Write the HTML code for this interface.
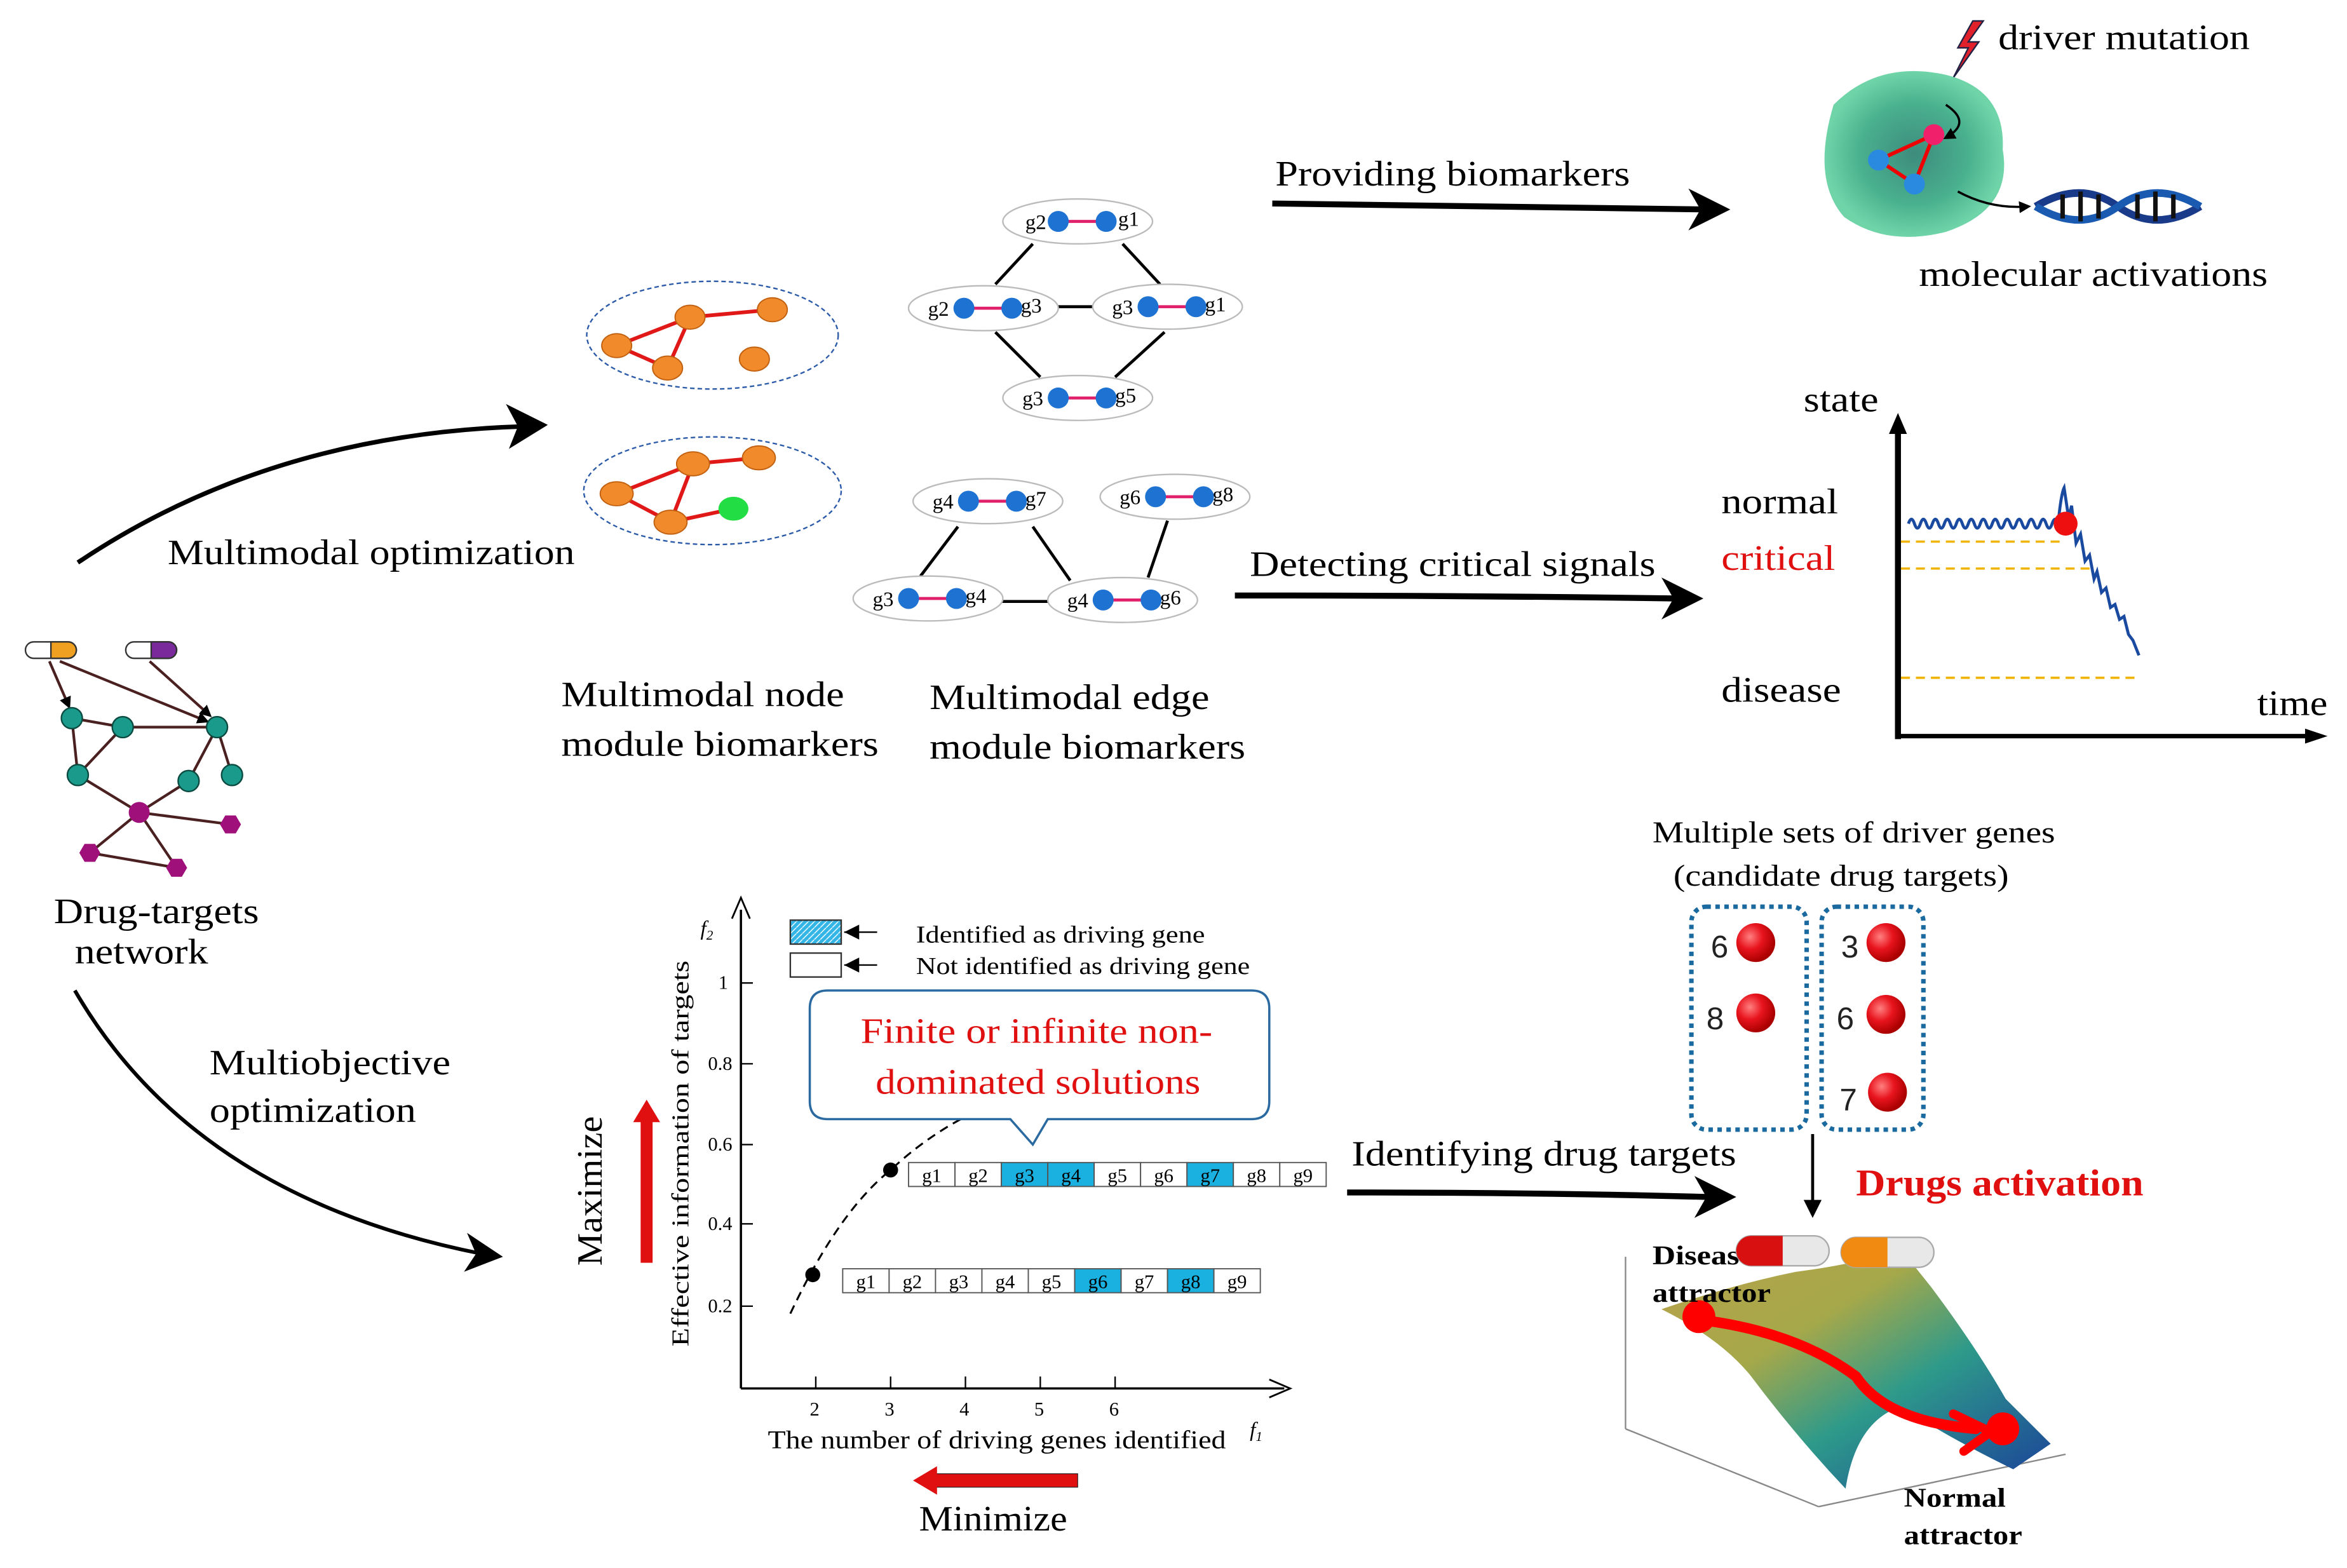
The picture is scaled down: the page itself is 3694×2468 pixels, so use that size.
<!DOCTYPE html>
<html><head><meta charset="utf-8"><style>
html,body{margin:0;padding:0;background:#fff}
svg{display:block}
text{font-family:"Liberation Serif",serif}
</style></head><body>
<svg width="3694" height="2468" viewBox="0 0 1568 1048" preserveAspectRatio="none" xmlns="http://www.w3.org/2000/svg">
<defs>
<radialGradient id="cell" cx="50%" cy="50%" r="50%"><stop offset="0" stop-color="#3d8c7c"/><stop offset="0.6" stop-color="#49b08e"/><stop offset="1" stop-color="#6fd4a8"/></radialGradient>
<linearGradient id="surf" x1="0" y1="0" x2="1" y2="1"><stop offset="0" stop-color="#b9a24a"/><stop offset="0.35" stop-color="#a5a84a"/><stop offset="0.6" stop-color="#2e9a8a"/><stop offset="1" stop-color="#1a3e9a"/></linearGradient>
<pattern id="hatch" width="4" height="4" patternUnits="userSpaceOnUse"><rect width="4" height="4" fill="#33b6e6"/><path d="M0 4L4 0" stroke="#fff" stroke-width="0.6"/></pattern>
<marker id="ah" markerWidth="8" markerHeight="8" refX="6" refY="4" orient="auto" markerUnits="userSpaceOnUse"><path d="M0 0L8 4L0 8z" fill="#000"/></marker>
<radialGradient id="rb" cx="35%" cy="35%" r="65%"><stop offset="0" stop-color="#ff8080"/><stop offset="0.5" stop-color="#e8141e"/><stop offset="1" stop-color="#a00"/></radialGradient>
</defs>

<path d="M1318 14 L1308 32 L1315 32 L1305 52 L1322 28 L1315 28 L1325 14z" fill="#e0202a" stroke="#224" stroke-width="1"/>
<text x="1335" y="33" font-size="24" textLength="168" lengthAdjust="spacingAndGlyphs">driver mutation</text>
<path d="M1225 70 Q1255 40 1300 50 Q1340 60 1338 100 Q1345 140 1300 155 Q1260 165 1232 145 Q1210 120 1225 70z" fill="url(#cell)"/>
<line x1="1255" y1="107" x2="1292" y2="90" stroke="#e00" stroke-width="2.5"/>
<line x1="1255" y1="107" x2="1279" y2="123" stroke="#e00" stroke-width="2.5"/>
<line x1="1279" y1="123" x2="1292" y2="90" stroke="#e00" stroke-width="2.5"/>
<circle cx="1292" cy="90" r="7" fill="#f0206a"/><circle cx="1255" cy="107" r="7" fill="#2a8ae0"/><circle cx="1279" cy="123" r="7" fill="#2a8ae0"/>
<path d="M1300 70 Q1318 82 1300 92" fill="none" stroke="#000" stroke-width="1.5" marker-end="url(#ah)"/>
<path d="M1308 128 Q1330 140 1355 138" fill="none" stroke="#000" stroke-width="1.5" marker-end="url(#ah)"/>
<path d="M1360 138 Q1390 120 1415 138 T1470 138" fill="none" stroke="#1a3a8a" stroke-width="5"/>
<path d="M1360 138 Q1390 156 1415 138 T1470 138" fill="none" stroke="#1a5ab0" stroke-width="5"/>
<g stroke="#111" stroke-width="3"><line x1="1378" y1="130" x2="1378" y2="146"/><line x1="1390" y1="128" x2="1390" y2="148"/><line x1="1402" y1="130" x2="1402" y2="146"/><line x1="1428" y1="130" x2="1428" y2="146"/><line x1="1440" y1="128" x2="1440" y2="148"/><line x1="1452" y1="130" x2="1452" y2="146"/></g>
<text x="1282" y="191" font-size="24" textLength="233" lengthAdjust="spacingAndGlyphs">molecular activations</text>
<text x="852" y="124" font-size="24" textLength="237" lengthAdjust="spacingAndGlyphs">Providing biomarkers</text>
<path d="M850 136 Q1000 138 1140 140" fill="none" stroke="#000" stroke-width="4"/>
<path d="M1128 126 L1156 140 L1128 154 L1136 140z" fill="#000"/>

<ellipse cx="476" cy="224" rx="84" ry="36" fill="none" stroke="#2b5aa8" stroke-width="1" stroke-dasharray="3,2"/>
<g stroke="#e01818" stroke-width="2.5"><line x1="412" y1="231" x2="461" y2="212"/><line x1="461" y1="212" x2="516" y2="207"/><line x1="412" y1="231" x2="446" y2="246"/><line x1="446" y1="246" x2="461" y2="212"/></g>
<g fill="#f08a2a" stroke="#c06010" stroke-width="0.8"><ellipse cx="412" cy="231" rx="10" ry="8"/><ellipse cx="461" cy="212" rx="10" ry="8"/><ellipse cx="516" cy="207" rx="10" ry="8"/><ellipse cx="446" cy="246" rx="10" ry="8"/><ellipse cx="504" cy="240" rx="10" ry="8"/></g>
<ellipse cx="476" cy="328" rx="86" ry="36" fill="none" stroke="#2b5aa8" stroke-width="1" stroke-dasharray="3,2"/>
<g stroke="#e01818" stroke-width="2.5"><line x1="412" y1="330" x2="463" y2="310"/><line x1="463" y1="310" x2="507" y2="306"/><line x1="412" y1="330" x2="448" y2="349"/><line x1="448" y1="349" x2="490" y2="340"/><line x1="463" y1="310" x2="448" y2="349"/></g>
<g fill="#f08a2a" stroke="#c06010" stroke-width="0.8"><ellipse cx="412" cy="330" rx="11" ry="8"/><ellipse cx="463" cy="310" rx="11" ry="8"/><ellipse cx="507" cy="306" rx="11" ry="8"/><ellipse cx="448" cy="349" rx="11" ry="8"/></g>
<ellipse cx="490" cy="340" rx="10" ry="8" fill="#22dd44"/>
<text x="375" y="472" font-size="24" textLength="189" lengthAdjust="spacingAndGlyphs">Multimodal node</text>
<text x="375" y="505" font-size="24" textLength="212" lengthAdjust="spacingAndGlyphs">module biomarkers</text>

<g stroke="#000" stroke-width="2">
<line x1="690" y1="163" x2="665" y2="190"/><line x1="750" y1="163" x2="775" y2="190"/><line x1="705" y1="205" x2="735" y2="205"/><line x1="665" y1="222" x2="695" y2="252"/><line x1="778" y1="222" x2="745" y2="252"/>
<line x1="640" y1="352" x2="615" y2="385"/><line x1="690" y1="352" x2="715" y2="388"/><line x1="668" y1="402" x2="702" y2="402"/><line x1="780" y1="348" x2="767" y2="386"/>
</g>
<g font-size="14">
<g transform="translate(720,148)"><ellipse rx="50" ry="15" fill="#fff" stroke="#bbb"/><line x1="-13" x2="19" stroke="#e0206a" stroke-width="2"/><circle cx="-13" r="7" fill="#1e72d2"/><circle cx="19" r="7" fill="#1e72d2"/><text x="-35" y="5">g2</text><text x="27" y="3">g1</text></g>
<g transform="translate(657,206)"><ellipse rx="50" ry="15" fill="#fff" stroke="#bbb"/><line x1="-13" x2="19" stroke="#e0206a" stroke-width="2"/><circle cx="-13" r="7" fill="#1e72d2"/><circle cx="19" r="7" fill="#1e72d2"/><text x="-37" y="5">g2</text><text x="25" y="3">g3</text></g>
<g transform="translate(780,205)"><ellipse rx="50" ry="15" fill="#fff" stroke="#bbb"/><line x1="-13" x2="19" stroke="#e0206a" stroke-width="2"/><circle cx="-13" r="7" fill="#1e72d2"/><circle cx="19" r="7" fill="#1e72d2"/><text x="-37" y="5">g3</text><text x="25" y="3">g1</text></g>
<g transform="translate(720,266)"><ellipse rx="50" ry="15" fill="#fff" stroke="#bbb"/><line x1="-13" x2="19" stroke="#e0206a" stroke-width="2"/><circle cx="-13" r="7" fill="#1e72d2"/><circle cx="19" r="7" fill="#1e72d2"/><text x="-37" y="5">g3</text><text x="25" y="3">g5</text></g>
<g transform="translate(660,335)"><ellipse rx="50" ry="15" fill="#fff" stroke="#bbb"/><line x1="-13" x2="19" stroke="#e0206a" stroke-width="2"/><circle cx="-13" r="7" fill="#1e72d2"/><circle cx="19" r="7" fill="#1e72d2"/><text x="-37" y="5">g4</text><text x="25" y="3">g7</text></g>
<g transform="translate(785,332)"><ellipse rx="50" ry="15" fill="#fff" stroke="#bbb"/><line x1="-13" x2="19" stroke="#e0206a" stroke-width="2"/><circle cx="-13" r="7" fill="#1e72d2"/><circle cx="19" r="7" fill="#1e72d2"/><text x="-37" y="5">g6</text><text x="25" y="3">g8</text></g>
<g transform="translate(620,400)"><ellipse rx="50" ry="15" fill="#fff" stroke="#bbb"/><line x1="-13" x2="19" stroke="#e0206a" stroke-width="2"/><circle cx="-13" r="7" fill="#1e72d2"/><circle cx="19" r="7" fill="#1e72d2"/><text x="-37" y="5">g3</text><text x="25" y="3">g4</text></g>
<g transform="translate(750,401)"><ellipse rx="50" ry="15" fill="#fff" stroke="#bbb"/><line x1="-13" x2="19" stroke="#e0206a" stroke-width="2"/><circle cx="-13" r="7" fill="#1e72d2"/><circle cx="19" r="7" fill="#1e72d2"/><text x="-37" y="5">g4</text><text x="25" y="3">g6</text></g>
</g>
<text x="621" y="474" font-size="24" textLength="187" lengthAdjust="spacingAndGlyphs">Multimodal edge</text>
<text x="621" y="507" font-size="24" textLength="211" lengthAdjust="spacingAndGlyphs">module biomarkers</text>

<path d="M52 376 Q180 290 350 285" fill="none" stroke="#000" stroke-width="3"/>
<path d="M338 270 L366 284 L340 300 L346 285z" fill="#000"/>
<text x="112" y="377" font-size="24" textLength="272" lengthAdjust="spacingAndGlyphs">Multimodal optimization</text>

<text x="835" y="385" font-size="24" textLength="271" lengthAdjust="spacingAndGlyphs">Detecting critical signals</text>
<path d="M825 398 Q980 398 1120 400" fill="none" stroke="#000" stroke-width="4"/>
<path d="M1110 386 L1138 400 L1110 414 L1118 400z" fill="#000"/>

<line x1="1268" y1="286" x2="1268" y2="494" stroke="#000" stroke-width="4"/>
<path d="M1262 290 L1268 276 L1274 290z" fill="#000"/>
<line x1="1268" y1="492" x2="1545" y2="492" stroke="#000" stroke-width="3"/>
<path d="M1540 487 L1555 492 L1540 497z" fill="#000"/>
<text x="1205" y="275" font-size="24" textLength="50" lengthAdjust="spacingAndGlyphs">state</text>
<text x="1150" y="343" font-size="24" textLength="78" lengthAdjust="spacingAndGlyphs">normal</text>
<text x="1150" y="381" font-size="24" fill="#e01010" textLength="76" lengthAdjust="spacingAndGlyphs">critical</text>
<text x="1150" y="469" font-size="24" textLength="80" lengthAdjust="spacingAndGlyphs">disease</text>
<text x="1508" y="478" font-size="24" textLength="47" lengthAdjust="spacingAndGlyphs">time</text>
<g stroke="#f0b400" stroke-width="1.5" stroke-dasharray="6,4"><line x1="1270" y1="362" x2="1380" y2="362"/><line x1="1270" y1="380" x2="1398" y2="380"/><line x1="1270" y1="453" x2="1428" y2="453"/></g>
<path d="M1275 350 q2 -6 4 0 q2 6 4 0 q2 -6 4 0 q2 6 4 0 q2 -6 4 0 q2 6 4 0 q2 -6 4 0 q2 6 4 0 q2 -6 4 0 q2 6 4 0 q2 -6 4 0 q2 6 4 0 q2 -6 4 0 q2 6 4 0 q2 -6 4 0 q2 6 4 0 q2 -6 4 0 q2 6 4 0 q2 -6 4 0 q2 6 4 0 q2 -6 4 0 q2 6 4 0 q2 -6 4 0 q2 6 4 0 q2 -6 4 0 q2 -20 4 -24 l3 20 l2 -8 l3 25 l3 -6 l3 18 l3 -4 l3 16 l2 -5 l3 14 l3 -3 l3 13 l3 -2 l3 10 l3 -2 l3 12 l3 4 l4 10" fill="none" stroke="#1a4aa0" stroke-width="2"/>
<circle cx="1380" cy="350" r="8" fill="#ee1010"/>

<g transform="translate(17,429)"><rect width="34" height="11" rx="5.5" fill="#fff" stroke="#333"/><path d="M17 0 H28.5 A5.5 5.5 0 0 1 28.5 11 H17z" fill="#f0a020" stroke="#333"/></g>
<g transform="translate(84,429)"><rect width="34" height="11" rx="5.5" fill="#fff" stroke="#333"/><path d="M17 0 H28.5 A5.5 5.5 0 0 1 28.5 11 H17z" fill="#7a2a9a" stroke="#333"/></g>
<g stroke="#4a2020" stroke-width="1.8">
<line x1="33" y1="442" x2="46" y2="472" marker-end="url(#ah)"/><line x1="40" y1="442" x2="138" y2="482" marker-end="url(#ah)"/><line x1="100" y1="442" x2="140" y2="478" marker-end="url(#ah)"/>
<line x1="48" y1="480" x2="82" y2="486"/><line x1="82" y1="486" x2="145" y2="486"/><line x1="48" y1="480" x2="52" y2="518"/><line x1="52" y1="518" x2="82" y2="486"/><line x1="145" y1="486" x2="126" y2="522"/><line x1="145" y1="486" x2="155" y2="518"/><line x1="52" y1="518" x2="93" y2="543"/><line x1="126" y1="522" x2="93" y2="543"/><line x1="93" y1="543" x2="154" y2="551"/><line x1="93" y1="543" x2="60" y2="570"/><line x1="93" y1="543" x2="118" y2="580"/><line x1="60" y1="570" x2="118" y2="580"/>
</g>
<g fill="#1a9a8a" stroke="#0a4a40" stroke-width="1"><circle cx="48" cy="480" r="7"/><circle cx="82" cy="486" r="7"/><circle cx="145" cy="486" r="7"/><circle cx="52" cy="518" r="7"/><circle cx="126" cy="522" r="7"/><circle cx="155" cy="518" r="7"/></g>
<circle cx="93" cy="543" r="7" fill="#a0107a"/>
<g fill="#a0107a"><polygon points="161,551 157.5,557 150.5,557 147,551 150.5,545 157.5,545"/><polygon points="67,570 63.5,576 56.5,576 53,570 56.5,564 63.5,564"/><polygon points="125,580 121.5,586 114.5,586 111,580 114.5,574 121.5,574"/></g>
<text x="36" y="617" font-size="24" textLength="137" lengthAdjust="spacingAndGlyphs">Drug-targets</text>
<text x="50" y="644" font-size="24" textLength="89" lengthAdjust="spacingAndGlyphs">network</text>

<path d="M50 662 Q130 800 322 838" fill="none" stroke="#000" stroke-width="2.5"/>
<path d="M312 824 L336 840 L310 850 L318 838z" fill="#000"/>
<text x="140" y="718" font-size="24" textLength="161" lengthAdjust="spacingAndGlyphs">Multiobjective</text>
<text x="140" y="750" font-size="24" textLength="138" lengthAdjust="spacingAndGlyphs">optimization</text>

<line x1="495" y1="608" x2="495" y2="928" stroke="#000" stroke-width="1.5"/>
<path d="M489 614 L495 600 L501 614" fill="none" stroke="#000" stroke-width="1.2"/>
<line x1="495" y1="928" x2="858" y2="928" stroke="#000" stroke-width="1.5"/>
<path d="M848 922 L862 928 L848 934" fill="none" stroke="#000" stroke-width="1.2"/>
<g font-size="13"><text x="480" y="661">1</text><text x="473" y="715">0.8</text><text x="473" y="769">0.6</text><text x="473" y="822">0.4</text><text x="473" y="877">0.2</text>
<text x="541" y="946">2</text><text x="591" y="946">3</text><text x="641" y="946">4</text><text x="691" y="946">5</text><text x="741" y="946">6</text></g>
<g stroke="#000"><line x1="495" y1="657" x2="503" y2="657"/><line x1="495" y1="711" x2="503" y2="711"/><line x1="495" y1="765" x2="503" y2="765"/><line x1="495" y1="818" x2="503" y2="818"/><line x1="495" y1="873" x2="503" y2="873"/>
<line x1="545" y1="920" x2="545" y2="928"/><line x1="595" y1="920" x2="595" y2="928"/><line x1="645" y1="920" x2="645" y2="928"/><line x1="695" y1="920" x2="695" y2="928"/><line x1="745" y1="920" x2="745" y2="928"/></g>
<text x="468" y="625" font-size="14" font-style="italic">f<tspan font-size="9" dy="3">2</tspan></text>
<text x="835" y="960" font-size="14" font-style="italic">f<tspan font-size="9" dy="3">1</tspan></text>
<text transform="translate(460,900) rotate(-90)" font-size="16" textLength="258" lengthAdjust="spacingAndGlyphs">Effective information of targets</text>
<text x="513" y="968" font-size="17" textLength="306" lengthAdjust="spacingAndGlyphs">The number of  driving genes  identified</text>
<text transform="translate(402,846) rotate(-90)" font-size="24" textLength="100" lengthAdjust="spacingAndGlyphs">Maximize</text>
<rect x="428" y="748" width="8" height="96" fill="#e01010"/>
<path d="M423 750 L432 735 L441 750z" fill="#e01010"/>
<rect x="624" y="985" width="96" height="9" fill="#e01010" stroke="#222" stroke-width="0.5"/>
<path d="M626 980 L610 989.5 L626 999z" fill="#e01010"/>
<text x="614" y="1023" font-size="24" textLength="99" lengthAdjust="spacingAndGlyphs">Minimize</text>
<rect x="528" y="615" width="34" height="16" fill="url(#hatch)" stroke="#333"/>
<rect x="528" y="637" width="34" height="16" fill="#fff" stroke="#333"/>
<line x1="564" y1="623" x2="586" y2="623" stroke="#000"/><path d="M564 623 L574 618 L574 628z" fill="#000"/>
<line x1="564" y1="645" x2="586" y2="645" stroke="#000"/><path d="M564 645 L574 640 L574 650z" fill="#000"/>
<text x="612" y="630" font-size="16" textLength="193" lengthAdjust="spacingAndGlyphs">Identified as driving gene</text>
<text x="612" y="651" font-size="16" textLength="223" lengthAdjust="spacingAndGlyphs">Not identified as driving gene</text>
<path d="M528 878 Q560 810 595 782 Q640 740 700 726" fill="none" stroke="#000" stroke-width="1.3" stroke-dasharray="6,4"/>
<path d="M553 662 H836 Q848 662 848 674 V736 Q848 748 836 748 H700 L690 765 L675 748 H553 Q541 748 541 736 V674 Q541 662 553 662z" fill="#fff" stroke="#2b6aa0" stroke-width="1.5"/>
<text x="575" y="697" font-size="24" fill="#e01010" textLength="235" lengthAdjust="spacingAndGlyphs">Finite  or  infinite  non-</text>
<text x="585" y="731" font-size="24" fill="#e01010" textLength="217" lengthAdjust="spacingAndGlyphs">dominated  solutions</text>
<circle cx="543" cy="852" r="5" fill="#000"/><circle cx="595" cy="782" r="5" fill="#000"/>
<g font-size="13" stroke="#555" stroke-width="0.8">
<g transform="translate(607,777)"><rect x="0" width="31" height="16" fill="#fff"/><rect x="31" width="31" height="16" fill="#fff"/><rect x="62" width="31" height="16" fill="#1ab0e0"/><rect x="93" width="31" height="16" fill="#1ab0e0"/><rect x="124" width="31" height="16" fill="#fff"/><rect x="155" width="31" height="16" fill="#fff"/><rect x="186" width="31" height="16" fill="#1ab0e0"/><rect x="217" width="31" height="16" fill="#fff"/><rect x="248" width="31" height="16" fill="#fff"/>
<g stroke="none" fill="#000"><text x="9" y="13">g1</text><text x="40" y="13">g2</text><text x="71" y="13">g3</text><text x="102" y="13">g4</text><text x="133" y="13">g5</text><text x="164" y="13">g6</text><text x="195" y="13">g7</text><text x="226" y="13">g8</text><text x="257" y="13">g9</text></g></g>
<g transform="translate(563,848)"><rect x="0" width="31" height="16" fill="#fff"/><rect x="31" width="31" height="16" fill="#fff"/><rect x="62" width="31" height="16" fill="#fff"/><rect x="93" width="31" height="16" fill="#fff"/><rect x="124" width="31" height="16" fill="#fff"/><rect x="155" width="31" height="16" fill="#1ab0e0"/><rect x="186" width="31" height="16" fill="#fff"/><rect x="217" width="31" height="16" fill="#1ab0e0"/><rect x="248" width="31" height="16" fill="#fff"/>
<g stroke="none" fill="#000"><text x="9" y="13">g1</text><text x="40" y="13">g2</text><text x="71" y="13">g3</text><text x="102" y="13">g4</text><text x="133" y="13">g5</text><text x="164" y="13">g6</text><text x="195" y="13">g7</text><text x="226" y="13">g8</text><text x="257" y="13">g9</text></g></g>
</g>

<text x="903" y="779" font-size="24" textLength="257" lengthAdjust="spacingAndGlyphs">Identifying drug targets</text>
<path d="M900 797 Q1030 797 1140 800" fill="none" stroke="#000" stroke-width="4"/>
<path d="M1132 786 L1160 800 L1132 814 L1140 800z" fill="#000"/>
<text x="1104" y="563" font-size="20" textLength="269" lengthAdjust="spacingAndGlyphs">Multiple sets of driver genes</text>
<text x="1118" y="592" font-size="20" textLength="224" lengthAdjust="spacingAndGlyphs">(candidate drug targets)</text>
<rect x="1130" y="606" width="77" height="149" rx="10" fill="none" stroke="#1a6aa0" stroke-width="3" stroke-dasharray="3,3"/>
<rect x="1217" y="606" width="68" height="149" rx="10" fill="none" stroke="#1a6aa0" stroke-width="3" stroke-dasharray="3,3"/>
<g font-size="21" fill="#222" style="font-family:'Liberation Sans',sans-serif"><text x="1143" y="640" style="font-family:'Liberation Sans',sans-serif">6</text><text x="1140" y="688" style="font-family:'Liberation Sans',sans-serif">8</text><text x="1230" y="640" style="font-family:'Liberation Sans',sans-serif">3</text><text x="1227" y="688" style="font-family:'Liberation Sans',sans-serif">6</text><text x="1229" y="742" style="font-family:'Liberation Sans',sans-serif">7</text></g>
<g fill="url(#rb)"><circle cx="1173" cy="630" r="13"/><circle cx="1173" cy="677" r="13"/><circle cx="1260" cy="630" r="13"/><circle cx="1260" cy="678" r="13"/><circle cx="1261" cy="730" r="13"/></g>
<line x1="1211" y1="758" x2="1211" y2="805" stroke="#000" stroke-width="2"/>
<path d="M1205 802 L1211 814 L1217 802z" fill="#000"/>
<text x="1240" y="799" font-size="25" font-weight="bold" fill="#e01010" textLength="192" lengthAdjust="spacingAndGlyphs">Drugs activation</text>

<g stroke="#888" stroke-width="1" fill="none"><line x1="1086" y1="840" x2="1086" y2="955"/><line x1="1086" y1="955" x2="1215" y2="1007"/><line x1="1215" y1="1007" x2="1380" y2="972"/></g>
<path d="M1110 875 Q1160 858 1200 850 Q1240 845 1270 835 L1290 860 Q1320 900 1340 935 L1370 965 L1345 982 Q1300 960 1270 940 Q1240 950 1233 995 Q1200 960 1170 920 Q1150 895 1110 875z" fill="url(#surf)"/>
<path d="M1135 882 Q1200 890 1240 920 Q1260 950 1320 955" fill="none" stroke="#f00" stroke-width="7" stroke-linecap="round"/>
<path d="M1305 945 L1330 957 L1312 970" fill="none" stroke="#f00" stroke-width="6" stroke-linecap="round"/>
<circle cx="1135" cy="880" r="11" fill="#f00"/><circle cx="1338" cy="955" r="11" fill="#f00"/>
<text x="1104" y="845" font-size="18" font-weight="bold" textLength="58" lengthAdjust="spacingAndGlyphs">Diseas</text>
<text x="1104" y="870" font-size="18" font-weight="bold" textLength="79" lengthAdjust="spacingAndGlyphs">attractor</text>
<text x="1272" y="1007" font-size="18" font-weight="bold" textLength="68" lengthAdjust="spacingAndGlyphs">Normal</text>
<text x="1272" y="1032" font-size="18" font-weight="bold" textLength="79" lengthAdjust="spacingAndGlyphs">attractor</text>
<g transform="translate(1160,826)"><rect width="62" height="20" rx="10" fill="#e8e8e8" stroke="#aaa"/><path d="M31 0 H10 A10 10 0 0 0 10 20 H31z" fill="#d81010"/></g>
<g transform="translate(1230,827)"><rect width="62" height="20" rx="10" fill="#e8e8e8" stroke="#aaa"/><path d="M31 0 H10 A10 10 0 0 0 10 20 H31z" fill="#f08a10"/></g>
</svg>
</body></html>
